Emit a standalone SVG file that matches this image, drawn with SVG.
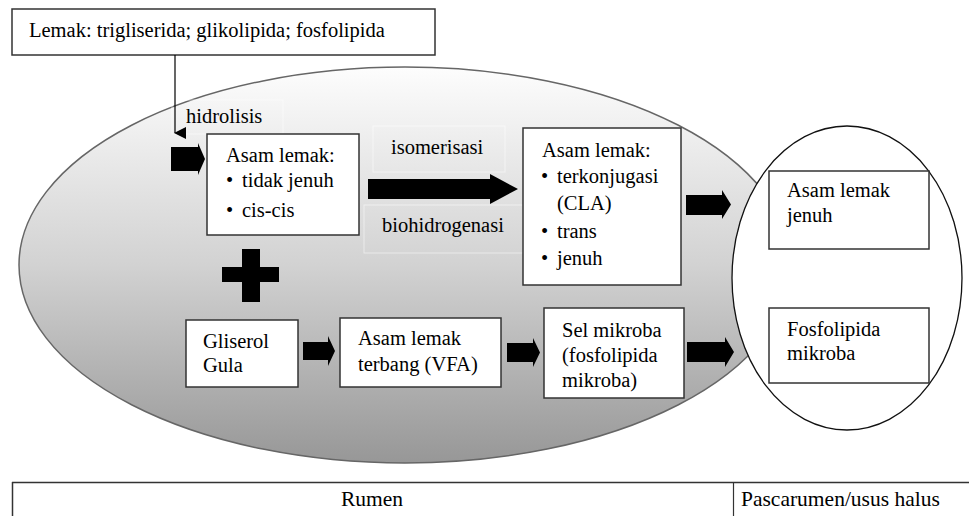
<svg xmlns="http://www.w3.org/2000/svg" width="969" height="516" viewBox="0 0 969 516">
<defs>
<linearGradient id="rumenGrad" x1="0" y1="0" x2="0" y2="1">
<stop offset="0" stop-color="#fdfdfd"/>
<stop offset="0.5" stop-color="#d2d2d2"/>
<stop offset="1" stop-color="#979797"/>
</linearGradient>
<marker id="arrowHead" viewBox="0 0 12 12" markerWidth="12" markerHeight="12" refX="6" refY="11" orient="auto" markerUnits="userSpaceOnUse">
<path d="M0,0 L12,0 L6,12 Z" fill="#000"/>
</marker>
</defs>
<style>
.t{font-family:"Liberation Serif","Times New Roman",serif;font-size:20.5px;fill:#000}
.tb{font-size:21.5px}
.box{fill:#fff;stroke:#333;stroke-width:1.5}
.faint{fill:none;stroke:#fff;stroke-width:1;opacity:0.5}
.blk{fill:#000}
.ln{stroke:#000;stroke-width:1.2;fill:none}
</style>
<rect width="969" height="516" fill="#fff"/>

<g id="rumen">
<ellipse cx="405" cy="265" rx="386" ry="198" fill="url(#rumenGrad)" stroke="#666" stroke-width="1.5"/>
</g>
<g id="pascarumen">
<ellipse cx="847" cy="278" rx="115" ry="152" fill="#fff" stroke="#111" stroke-width="1.3"/>
</g>

<g id="lemak">
<rect class="box" x="12" y="9" width="423" height="46"/>
<text class="t" x="29" y="37">Lemak: trigliserida; glikolipida; fosfolipida</text>
</g>

<g id="hidrolisis-label">
<rect class="faint" x="172" y="100" width="111" height="34"/>
<text class="t" x="186" y="123">hidrolisis</text>
</g>

<g id="asam-lemak-1">
<rect class="box" x="207" y="134" width="152" height="101"/>
<text class="t" x="226" y="162">Asam lemak:</text>
<text class="t" x="226" y="187">•</text>
<text class="t" x="242" y="187">tidak jenuh</text>
<text class="t" x="226" y="217">•</text>
<text class="t" x="242" y="217">cis-cis</text>
</g>

<g id="isomerisasi-label">
<rect class="faint" x="373" y="126" width="132" height="46"/>
<text class="t" x="391" y="154">isomerisasi</text>
</g>
<g id="biohidrogenasi-label">
<rect class="faint" x="364" y="205" width="159" height="48"/>
<text class="t" x="382" y="232">biohidrogenasi</text>
</g>

<g id="asam-lemak-2">
<rect class="box" x="523" y="128" width="158" height="157"/>
<text class="t" x="542" y="157">Asam lemak:</text>
<text class="t" x="541" y="183">•</text>
<text class="t" x="557" y="183">terkonjugasi</text>
<text class="t" x="557" y="210">(CLA)</text>
<text class="t" x="541" y="238">•</text>
<text class="t" x="557" y="238">trans</text>
<text class="t" x="541" y="265">•</text>
<text class="t" x="557" y="265">jenuh</text>
</g>

<g id="plus">
<path class="blk" d="M242,249 H260 V267 H279 V282 H260 V302 H242 V282 H222 V267 H242 Z"/>
</g>

<g id="gliserol-gula">
<rect class="box" x="186" y="320" width="112" height="67"/>
<text class="t" x="203" y="348">Gliserol</text>
<text class="t" x="203" y="372">Gula</text>
</g>

<g id="vfa">
<rect class="box" x="340" y="318" width="161" height="69"/>
<text class="t" x="358" y="345">Asam lemak</text>
<text class="t" x="358" y="371">terbang (VFA)</text>
</g>

<g id="sel-mikroba">
<rect class="box" x="544" y="308" width="140" height="90"/>
<text class="t" x="562" y="337">Sel mikroba</text>
<text class="t" x="562" y="362">(fosfolipida</text>
<text class="t" x="562" y="387">mikroba)</text>
</g>

<g id="asam-lemak-jenuh">
<rect class="box" x="769" y="171" width="160" height="78"/>
<text class="t" x="787" y="197">Asam lemak</text>
<text class="t" x="787" y="222">jenuh</text>
</g>

<g id="fosfolipida-mikroba">
<rect class="box" x="769" y="308" width="160" height="75"/>
<text class="t" x="787" y="336">Fosfolipida</text>
<text class="t" x="787" y="360">mikroba</text>
</g>

<g id="connectors">
<line class="ln" x1="175" y1="55" x2="175" y2="133" marker-end="url(#arrowHead)"/>
<path class="blk" d="M171,147 H198 V143 L205,159 L198,175 V171 H171 Z"/>
<path class="blk" d="M368,179 H490 V174 L518,189 L490,204 V199 H368 Z"/>
<path class="blk" d="M686,195 H722 V190 L731,204.5 L722,219 V215 H686 Z"/>
<path class="blk" d="M303,342 H328 V336 L335,351 L328,366 V360 H303 Z"/>
<path class="blk" d="M507,343 H533 V338 L540,352.5 L533,367 V362 H507 Z"/>
<path class="blk" d="M687,342 H725 V337 L734,352 L725,367 V362 H687 Z"/>
</g>

<g id="table">
<line x1="12" y1="482.5" x2="969" y2="482.5" stroke="#333" stroke-width="1.5"/>
<line x1="12.5" y1="482" x2="12.5" y2="516" stroke="#333" stroke-width="1.5"/>
<line x1="733.5" y1="482" x2="733.5" y2="516" stroke="#333" stroke-width="1.2"/>
<text class="t tb" x="372" y="506" text-anchor="middle">Rumen</text>
<text class="t tb" x="741" y="506">Pascarumen/usus halus</text>
</g>
</svg>
